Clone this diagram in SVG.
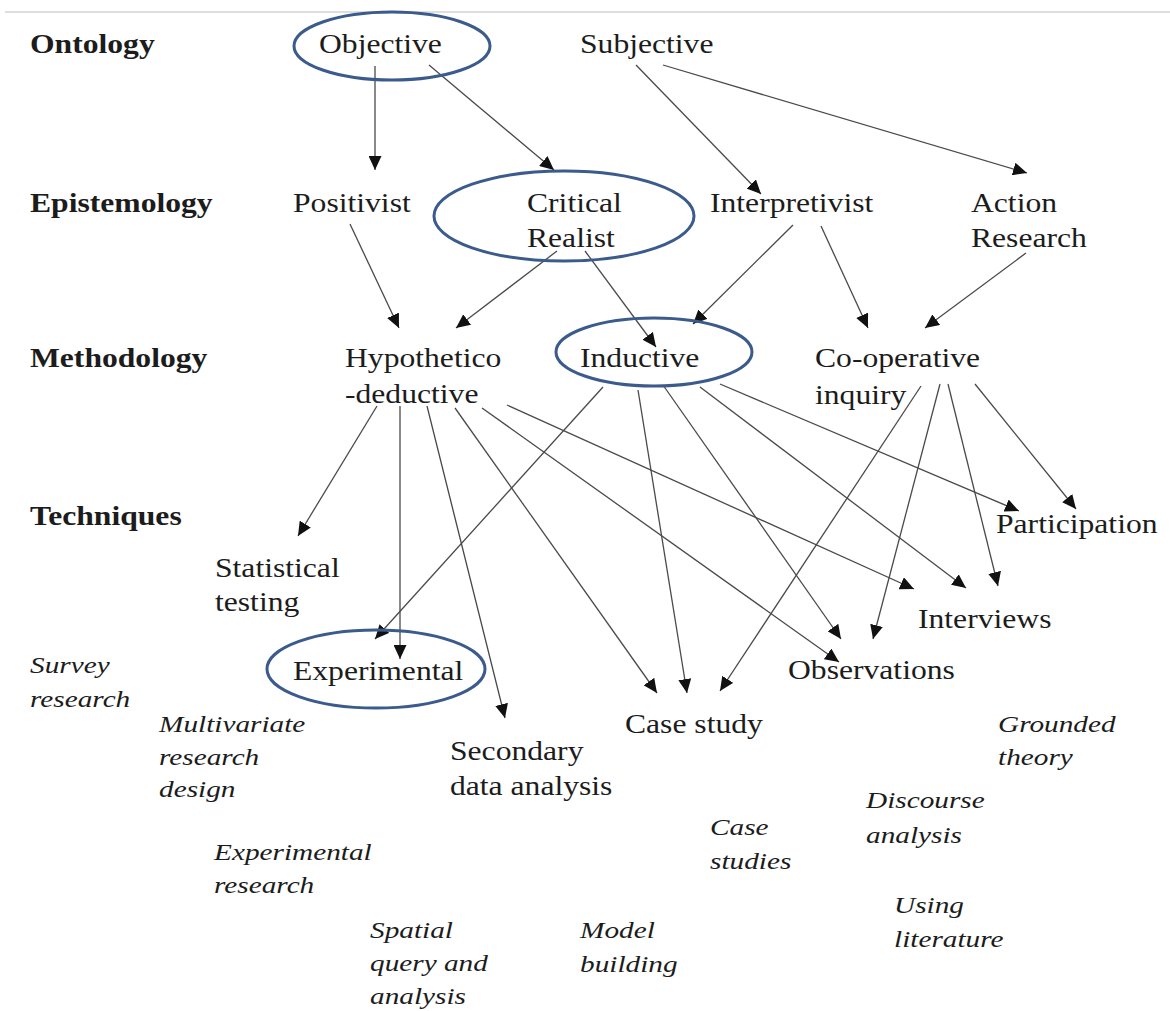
<svg xmlns="http://www.w3.org/2000/svg" width="1170" height="1011" viewBox="0 0 1170 1011">
  <defs>
    <marker id="arrow" markerUnits="userSpaceOnUse" markerWidth="14" markerHeight="13" refX="14" refY="6.5" orient="auto">
      <path d="M0,0 L14,6.5 L0,13 z" fill="#111"/>
    </marker>
    <style>
      text { font-family: "Liberation Serif", "Times New Roman", serif; fill: #1c1c1c; }
      .lvl { font-size: 27.5px; font-weight: bold; }
      .n { font-size: 27.5px; }
      .it { font-size: 24px; font-style: italic; }
      .ring { fill: none; stroke: #3b5b8c; stroke-width: 3; }
      .edge { fill: none; stroke: #4a4a4a; stroke-width: 1.3; marker-end: url(#arrow); }
    </style>
  </defs>

  <rect width="1170" height="1011" fill="#ffffff"/>
  <line x1="5" y1="12" x2="1170" y2="12" stroke="#dedede" stroke-width="2"/>

  <!-- level labels -->
  <g id="level-labels">
    <text class="lvl" transform="translate(30 53) scale(1.15 1)">Ontology</text>
    <text class="lvl" transform="translate(30 212) scale(1.15 1)">Epistemology</text>
    <text class="lvl" transform="translate(30 367) scale(1.15 1)">Methodology</text>
    <text class="lvl" transform="translate(30 525) scale(1.15 1)">Techniques</text>
  </g>

  <!-- connectors -->
  <g id="connectors">
    <line class="edge" x1="375" y1="66" x2="375" y2="170"/>
    <line class="edge" x1="429" y1="65" x2="554" y2="170"/>
    <line class="edge" x1="636" y1="65" x2="761" y2="194"/>
    <line class="edge" x1="663" y1="65" x2="1027" y2="173"/>
    <line class="edge" x1="350" y1="224" x2="399" y2="328"/>
    <line class="edge" x1="557" y1="251" x2="456" y2="328"/>
    <line class="edge" x1="585" y1="251" x2="656" y2="347"/>
    <line class="edge" x1="793" y1="225" x2="693" y2="324"/>
    <line class="edge" x1="821" y1="226" x2="868" y2="328"/>
    <line class="edge" x1="1026" y1="253" x2="925" y2="328"/>
    <line class="edge" x1="377" y1="406" x2="298" y2="536"/>
    <line class="edge" x1="400" y1="406" x2="400" y2="659"/>
    <line class="edge" x1="427" y1="406" x2="505" y2="718"/>
    <line class="edge" x1="455" y1="408" x2="657" y2="693"/>
    <line class="edge" x1="482" y1="408" x2="839" y2="662"/>
    <line class="edge" x1="507" y1="405" x2="914" y2="589"/>
    <line class="edge" x1="603" y1="387" x2="375" y2="639"/>
    <line class="edge" x1="638" y1="390" x2="687" y2="693"/>
    <line class="edge" x1="663" y1="385" x2="841" y2="639"/>
    <line class="edge" x1="700" y1="387" x2="966" y2="588"/>
    <line class="edge" x1="720" y1="384" x2="1019" y2="511"/>
    <line class="edge" x1="921" y1="386" x2="720" y2="691"/>
    <line class="edge" x1="940" y1="384" x2="873" y2="639"/>
    <line class="edge" x1="948" y1="384" x2="998" y2="586"/>
    <line class="edge" x1="975" y1="384" x2="1076" y2="509"/>
  </g>

  <!-- ontology -->
  <g id="objective">
    <ellipse class="ring" cx="392" cy="46" rx="98" ry="34"/>
    <text class="n" transform="translate(319 53) scale(1.15 1)">Objective</text>
  </g>
  <g id="subjective">
    <text class="n" transform="translate(580 53) scale(1.15 1)">Subjective</text>
  </g>

  <!-- epistemology -->
  <g id="positivist">
    <text class="n" transform="translate(293 212) scale(1.15 1)">Positivist</text>
  </g>
  <g id="critical-realist">
    <ellipse class="ring" cx="564" cy="216" rx="130" ry="45"/>
    <text class="n" transform="translate(527 212) scale(1.15 1)"><tspan x="0">Critical</tspan><tspan x="0" y="35">Realist</tspan></text>
  </g>
  <g id="interpretivist">
    <text class="n" transform="translate(710 212) scale(1.15 1)">Interpretivist</text>
  </g>
  <g id="action-research">
    <text class="n" transform="translate(971 212) scale(1.15 1)"><tspan x="0">Action</tspan><tspan x="0" y="35">Research</tspan></text>
  </g>

  <!-- methodology -->
  <g id="hypothetico-deductive">
    <text class="n" transform="translate(345 367) scale(1.15 1)"><tspan x="0">Hypothetico</tspan><tspan x="0" y="36">-deductive</tspan></text>
  </g>
  <g id="inductive">
    <ellipse class="ring" cx="654" cy="352" rx="98" ry="34"/>
    <text class="n" transform="translate(580 367) scale(1.15 1)">Inductive</text>
  </g>
  <g id="co-operative-inquiry">
    <text class="n" transform="translate(815 367) scale(1.15 1)"><tspan x="0">Co-operative</tspan><tspan x="0" y="37">inquiry</tspan></text>
  </g>

  <!-- techniques -->
  <g id="participation">
    <text class="n" transform="translate(996 533) scale(1.15 1)">Participation</text>
  </g>
  <g id="statistical-testing">
    <text class="n" transform="translate(215 577) scale(1.15 1)"><tspan x="0">Statistical</tspan><tspan x="0" y="34">testing</tspan></text>
  </g>
  <g id="interviews">
    <text class="n" transform="translate(918 628) scale(1.15 1)">Interviews</text>
  </g>
  <g id="experimental">
    <ellipse class="ring" cx="376" cy="669" rx="109" ry="39"/>
    <text class="n" transform="translate(293 680) scale(1.15 1)">Experimental</text>
  </g>
  <g id="observations">
    <text class="n" transform="translate(788 679) scale(1.15 1)">Observations</text>
  </g>
  <g id="case-study">
    <text class="n" transform="translate(625 733) scale(1.15 1)">Case study</text>
  </g>
  <g id="secondary-data-analysis">
    <text class="n" transform="translate(450 760) scale(1.15 1)"><tspan x="0">Secondary</tspan><tspan x="0" y="35">data analysis</tspan></text>
  </g>

  <!-- research approaches (italic) -->
  <g id="survey-research">
    <text class="it" transform="translate(30 673) scale(1.22 1)"><tspan x="0">Survey</tspan><tspan x="0" y="34">research</tspan></text>
  </g>
  <g id="multivariate-research-design">
    <text class="it" transform="translate(159 732) scale(1.22 1)"><tspan x="0">Multivariate</tspan><tspan x="0" y="33">research</tspan><tspan x="0" y="65">design</tspan></text>
  </g>
  <g id="grounded-theory">
    <text class="it" transform="translate(998 732) scale(1.22 1)"><tspan x="0">Grounded</tspan><tspan x="0" y="33">theory</tspan></text>
  </g>
  <g id="discourse-analysis">
    <text class="it" transform="translate(866 808) scale(1.22 1)"><tspan x="0">Discourse</tspan><tspan x="0" y="35">analysis</tspan></text>
  </g>
  <g id="case-studies">
    <text class="it" transform="translate(710 835) scale(1.22 1)"><tspan x="0">Case</tspan><tspan x="0" y="34">studies</tspan></text>
  </g>
  <g id="experimental-research">
    <text class="it" transform="translate(214 860) scale(1.22 1)"><tspan x="0">Experimental</tspan><tspan x="0" y="33">research</tspan></text>
  </g>
  <g id="using-literature">
    <text class="it" transform="translate(894 913) scale(1.22 1)"><tspan x="0">Using</tspan><tspan x="0" y="34">literature</tspan></text>
  </g>
  <g id="spatial-query-analysis">
    <text class="it" transform="translate(370 938) scale(1.22 1)"><tspan x="0">Spatial</tspan><tspan x="0" y="33">query and</tspan><tspan x="0" y="66">analysis</tspan></text>
  </g>
  <g id="model-building">
    <text class="it" transform="translate(580 938) scale(1.22 1)"><tspan x="0">Model</tspan><tspan x="0" y="34">building</tspan></text>
  </g>
</svg>
